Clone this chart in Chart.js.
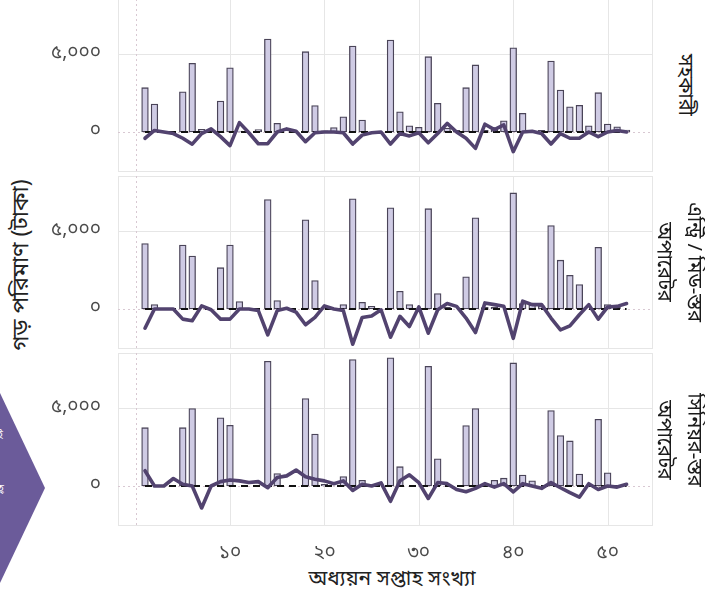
<!DOCTYPE html>
<html>
<head>
<meta charset="utf-8">
<script src="https://cdn.jsdelivr.net/npm/chart.js@4.4.0/dist/chart.umd.min.js"></script>
<style>
  body { margin: 0; background: #fff; }
  #wrap { position: relative; width: 705px; height: 600px; overflow: hidden;
          font-family: "Noto Sans Bengali", "Lohit Bengali", "Noto Sans", sans-serif; color: #222; }
  .panel { position: absolute; left: 40px; }
  .strip { position: absolute; width: 220px; text-align: center; font-size: 20px; line-height: 30px;
           transform: rotate(90deg); white-space: nowrap; color: #1a1a1a; }
  #ytitle { position: absolute; left: 22px; top: 265px; font-size: 23px; white-space: nowrap;
            transform: translate(-50%, -50%) rotate(-90deg); }
  #xtitle { position: absolute; left: 392px; top: 580px; font-size: 21px; white-space: nowrap;
            transform: translate(-50%, -50%); }
  .arrowtxt { position: absolute; color: #fff; font-size: 11px; }
</style>
</head>
<body>
<div id="wrap">
  <svg width="60" height="600" style="position:absolute;left:0;top:0">
    <polygon points="0,393 45,488 0,583" fill="#6b5b9a"/>
  </svg>
  <span class="arrowtxt" style="left:-3px;top:428px">ই</span>
  <span class="arrowtxt" style="left:-2px;top:482px">হ্</span>

  <canvas id="p1" class="panel" width="613" height="173" style="top:-1px"></canvas>
  <canvas id="p2" class="panel" width="613" height="173" style="top:176px"></canvas>
  <canvas id="p3" class="panel" width="613" height="208" style="top:353px"></canvas>

  <div id="ytitle">গড় পরিমাণ (টাকা)</div>
  <div id="xtitle">অধ্যয়ন সপ্তাহ সংখ্যা</div>
  <div id="s1" class="strip"></div>
  <div id="s2" class="strip"></div>
  <div id="s3" class="strip"></div>
</div>

<script>
const weeks = [1, 2, 3, 4, 5, 6, 7, 8, 9, 10, 11, 12, 13, 14, 15, 16, 17, 18, 19, 20, 21, 22, 23, 24, 25, 26,
  27, 28, 29, 30, 31, 32, 33, 34, 35, 36, 37, 38, 39, 40, 41, 42, 43, 44, 45, 46, 47, 48, 49, 50, 51, 52];

const panelNames = ['সহকারী', 'এন্ট্রি / মিড-স্তর\nঅপারেটর', 'সিনিয়র-স্তর\nঅপারেটর'];

// bars = average amount, line = change
const assistantBars = [2840, 1790, 0, 0, 2580, 4400, 170, 120, 1990, 4120, 60, 0, 150, 5960, 560, 0, 0, 5150, 1690, 80,
  280, 980, 5510, 770, 0, 0, 5900, 1300, 400, 300, 4830, 1840, 250, 100, 2840, 4300, 100, 120, 720, 5400,
  1200, 60, 100, 4550, 2690, 1620, 1710, 400, 2520, 510, 330, 120];
const assistantLine = [-400, 100, 0, -100, -400, -780, -100, 200, -300, -870, 600, -50, -750, -750, 0, 200, 50, -620, -50, 0,
  0, -50, -770, -200, -50, 0, -770, -100, -250, -50, -690, -100, 550, 0, -400, -1050, 500, 150, 450, -1260,
  0, 50, -100, -770, -100, -400, -400, 0, -300, 0, 100, 0];

const entryBars = [4200, 280, 0, 0, 4100, 3390, 0, 0, 2650, 4100, 480, 0, 0, 7010, 540, 0, 0, 5720, 1830, 100,
  0, 280, 7070, 430, 170, 0, 6490, 1140, 280, 0, 6430, 990, 100, 0, 2070, 5840, 100, 100, 0, 7440,
  350, 250, 200, 5350, 3130, 2160, 1570, 0, 3950, 280, 100, 0];
const entryLine = [-1230, 0, 0, 0, -650, -750, 200, -50, -650, -650, 0, 0, -100, -1660, -100, 50, -200, -1010, -540, 200,
  0, -100, -2260, -540, -450, -50, -1810, -470, -1120, 130, -1550, -50, 350, 170, -580, -1510, 390, 280, 170, -1880,
  500, 280, 280, -580, -1340, -1080, -370, 280, -650, 130, 170, 350];

const seniorBars = [3740, 0, 0, 0, 3740, 4960, 0, 0, 4370, 3890, 0, 0, 0, 8000, 800, 0, 0, 5610, 3330, 100,
  0, 600, 8110, 370, 0, 0, 8220, 1240, 0, 0, 7670, 1740, 0, 0, 3870, 4960, 0, 370, 500, 7890,
  700, 330, 0, 4840, 3240, 2890, 760, 0, 4280, 850, 0, 0];
const seniorLine = [980, 0, 0, 480, 110, 0, -1410, 0, 280, 390, 330, 220, 280, -110, 540, 650, 1020, 590, 430, 330,
  150, 330, -280, 110, 0, 200, -980, 330, 720, 220, -800, 220, 150, -220, -370, -150, 150, -70, 150, -370,
  150, 0, -150, 220, -110, -430, -720, 150, -220, 0, -70, 110];

const yTicks = [0, 5000];
const yTickLabels = ['০', '৫,০০০'];
const xTicks = [10, 20, 30, 40, 50];
const xTickLabels = ['১০', '২০', '৩০', '৪০', '৫০'];

const FONT = '"Noto Sans Bengali", "Lohit Bengali", "Noto Sans", sans-serif';

function hline(ctx, x1, x2, y) { ctx.beginPath(); ctx.moveTo(x1, y); ctx.lineTo(x2, y); ctx.stroke(); }
function vline(ctx, x, y1, y2) { ctx.beginPath(); ctx.moveTo(x, y1); ctx.lineTo(x, y2); ctx.stroke(); }

const panelGrid = {
  id: 'panelGrid',
  beforeDatasetsDraw(chart) {
    const { ctx, chartArea: a, scales: { x, y } } = chart;
    ctx.save();
    ctx.lineWidth = 1;
    ctx.strokeStyle = '#e6e6e6';
    xTicks.forEach(v => vline(ctx, Math.round(x.getPixelForValue(v)) + 0.5, a.top, a.bottom));
    hline(ctx, a.left, a.right, Math.round(y.getPixelForValue(5000)) + 0.5);
    ctx.strokeRect(a.left + 0.5, a.top + 0.5, a.width - 1, a.height - 1);
    ctx.setLineDash([2, 3]);
    ctx.strokeStyle = '#d8c8d2';
    vline(ctx, Math.round(x.getPixelForValue(0)) + 0.5, a.top, a.bottom);
    hline(ctx, a.left, a.right, Math.round(y.getPixelForValue(0)) + 0.5);
    ctx.restore();
  },
  afterDatasetDraw(chart, args) {
    if (args.meta.type !== 'bar') return;
    const { ctx, scales: { x, y } } = chart;
    const y0 = y.getPixelForValue(0);
    ctx.save();
    ctx.strokeStyle = '#111';
    ctx.lineWidth = 2;
    ctx.setLineDash([7, 5]);
    hline(ctx, x.getPixelForValue(weeks[0]), x.getPixelForValue(weeks[weeks.length - 1]), y0);
    ctx.restore();
  }
};

function makePanel(id, bars, line, showX) {
  new Chart(document.getElementById(id), {
    data: {
      datasets: [
        {
          type: 'line',
          data: weeks.map((w, i) => ({ x: w, y: line[i] })),
          borderColor: '#52436f',
          borderWidth: 3.6,
          pointRadius: 0,
          tension: 0,
          borderJoinStyle: 'round',
          borderCapStyle: 'round',
          order: 1
        },
        {
          type: 'bar',
          data: weeks.map((w, i) => ({ x: w, y: bars[i] })),
          backgroundColor: '#cfcbe4',
          borderColor: '#4a4458',
          borderWidth: 1.3,
          borderSkipped: false,
          barThickness: 6.7,
          order: 2
        }
      ]
    },
    options: {
      responsive: false,
      maintainAspectRatio: false,
      animation: false,
      layout: { padding: 0 },
      plugins: { legend: { display: false }, tooltip: { enabled: false } },
      scales: {
        x: {
          type: 'linear',
          offset: false,
          min: -1.86,
          max: 54.8,
          display: showX,
          grid: { display: false },
          border: { display: false },
          afterBuildTicks: s => { s.ticks = xTicks.map(v => ({ value: v })); },
          afterFit: s => {
            s.height = showX ? 35 : 0;
            s.paddingLeft = 0; s.paddingRight = 0;
          },
          ticks: {
            padding: 9,
            color: '#4a4a4a',
            font: { family: FONT, size: 19 },
            maxRotation: 0,
            callback: v => xTickLabels[xTicks.indexOf(v)]
          }
        },
        y: {
          min: -2564,
          max: 8526,
          grid: { display: false },
          border: { display: false },
          afterBuildTicks: s => { s.ticks = yTicks.map(v => ({ value: v })); },
          afterFit: s => {
            s.width = 78;
            s.paddingTop = 0; s.paddingBottom = 0;
          },
          ticks: {
            padding: 9,
            color: '#4a4a4a',
            font: { family: FONT, size: 19 },
            callback: v => yTickLabels[yTicks.indexOf(v)]
          }
        }
      }
    },
    plugins: [panelGrid]
  });
}

makePanel('p1', assistantBars, assistantLine, false);
makePanel('p2', entryBars, entryLine, false);
makePanel('p3', seniorBars, seniorLine, true);

// strip labels, rotated to read top-to-bottom
const stripCenters = [85, 262, 440];
const stripX = [684, 678, 678];
['s1', 's2', 's3'].forEach((id, i) => {
  const el = document.getElementById(id);
  el.innerHTML = panelNames[i].replace('\n', '<br>');
  const lines = panelNames[i].split('\n').length;
  const h = lines * 30;
  el.style.height = h + 'px';
  el.style.left = (stripX[i] - 110) + 'px';
  el.style.top = (stripCenters[i] - h / 2) + 'px';
});
</script>
</body>
</html>
